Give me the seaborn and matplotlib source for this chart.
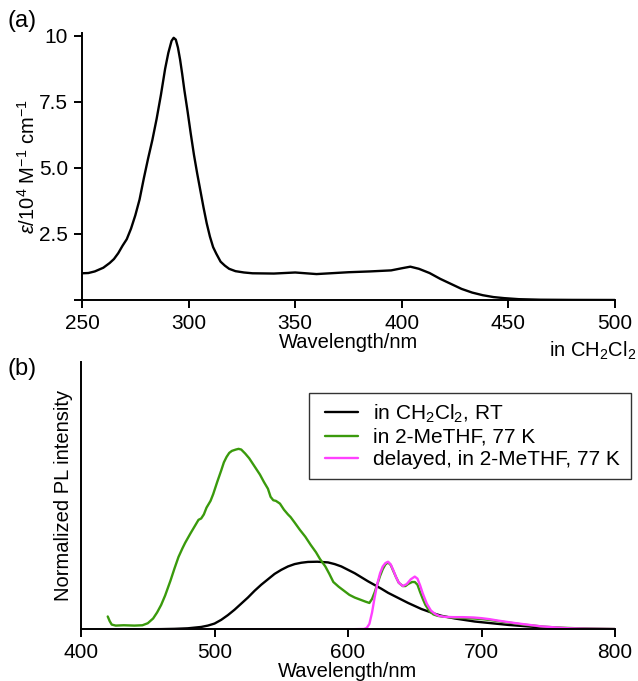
import matplotlib
matplotlib.use("Agg")
import matplotlib.pyplot as plt
from matplotlib.patches import Rectangle
import seaborn as sns

# (a) UV-vis absorption in CH2Cl2
abs_wl = [250, 253, 256, 260, 263, 265, 267, 269, 271, 273, 275, 277, 279, 281, 283,
          285, 287, 289, 290.5, 292, 293, 294, 295, 296, 297, 298, 299.5, 301, 302.5,
          304, 305.5, 307, 308.5, 310, 311.5, 313, 315, 317, 319, 322, 326, 330, 340,
          350, 360, 375, 385, 395, 400, 404, 408, 413, 418, 423, 428, 433, 438, 443,
          448, 455, 465, 480, 500]
abs_eps = [1.01, 1.02, 1.08, 1.22, 1.40, 1.55, 1.77, 2.05, 2.30, 2.70, 3.20, 3.80,
           4.60, 5.35, 6.05, 6.85, 7.75, 8.75, 9.35, 9.80, 9.92, 9.85, 9.55, 9.10,
           8.55, 7.95, 7.15, 6.30, 5.50, 4.80, 4.15, 3.50, 2.90, 2.40, 2.00, 1.75,
           1.45, 1.30, 1.18, 1.09, 1.04, 1.01, 1.00, 1.04, 0.98, 1.05, 1.08, 1.12,
           1.20, 1.26, 1.18, 1.02, 0.80, 0.61, 0.42, 0.28, 0.18, 0.11, 0.07, 0.03,
           0.01, 0.003, 0.0]
abs_xticks = [250, 300, 350, 400, 450, 500]
abs_yticks = [0, 2.5, 5.0, 7.5, 10]
abs_yticklabels = ["", "2.5", "5.0", "7.5", "10"]

# (b) photoluminescence spectra
rt_wl = [420, 440, 460, 470, 480, 490, 495, 500, 505, 510, 515, 520, 525, 530, 535,
         540, 545, 550, 555, 560, 565, 570, 577, 585, 590, 595, 600, 605, 610, 615,
         620, 625, 630, 635, 640, 645, 650, 655, 660, 665, 670, 675, 680, 685, 690,
         695, 700, 710, 720, 730, 740, 750, 760, 770, 780, 790, 800]
rt_int = [0.0, 0.0, 0.003, 0.007, 0.015, 0.035, 0.055, 0.085, 0.14, 0.21, 0.29, 0.38,
          0.47, 0.57, 0.66, 0.74, 0.82, 0.88, 0.93, 0.965, 0.985, 0.997, 1.0, 0.99,
          0.965, 0.93, 0.88, 0.83, 0.77, 0.71, 0.655, 0.60, 0.54, 0.49, 0.44, 0.39,
          0.345, 0.30, 0.265, 0.23, 0.20, 0.18, 0.16, 0.145, 0.13, 0.115, 0.105,
          0.085, 0.065, 0.05, 0.035, 0.025, 0.017, 0.011, 0.007, 0.004, 0.002]

k77_wl = [420, 421.5, 423, 426, 432, 440, 446, 450, 454, 457, 460, 463, 467, 470,
          473, 476, 478, 480, 482, 485, 488, 490, 492, 494, 497, 499, 502, 505, 507,
          509, 511, 513, 516, 518, 520, 523, 526, 529, 532, 534, 537, 540, 542, 544,
          546, 549, 552, 555, 557, 560, 564, 568, 572, 576, 579, 583, 586, 589, 593,
          597, 601, 605, 609, 613, 616, 618, 620, 622, 624, 626, 628, 630, 632, 634,
          636, 638, 641, 643, 645, 648, 650, 652, 654, 656, 658, 661, 664, 667, 670,
          675, 680, 687, 694, 701, 709, 716, 724, 731, 739, 746, 754, 765, 780, 800]
k77_int = [0.19, 0.12, 0.07, 0.055, 0.06, 0.055, 0.06, 0.09, 0.16, 0.25, 0.36, 0.50,
           0.72, 0.90, 1.07, 1.20, 1.28, 1.35, 1.42, 1.52, 1.62, 1.64, 1.70, 1.80,
           1.90, 2.00, 2.18, 2.35, 2.47, 2.55, 2.61, 2.64, 2.66, 2.67, 2.66, 2.60,
           2.53, 2.44, 2.35, 2.29, 2.18, 2.08, 1.96, 1.91, 1.90, 1.86, 1.77, 1.70,
           1.66, 1.58, 1.47, 1.37, 1.25, 1.14, 1.04, 0.93, 0.82, 0.70, 0.63, 0.57,
           0.51, 0.47, 0.44, 0.41, 0.39, 0.45, 0.55, 0.67, 0.79, 0.89, 0.96, 0.99,
           0.95, 0.86, 0.77, 0.69, 0.64, 0.64, 0.67, 0.70, 0.70, 0.66, 0.55, 0.45,
           0.36, 0.27, 0.22, 0.20, 0.19, 0.18, 0.17, 0.165, 0.16, 0.15, 0.13, 0.11,
           0.09, 0.07, 0.055, 0.04, 0.03, 0.02, 0.01, 0.005]

dl_wl = [420, 500, 600, 612, 614, 616, 618, 620, 622, 624, 626, 628, 630, 632, 634,
         636, 638, 641, 644, 647, 650, 652, 654, 656, 659, 662, 665, 668, 672, 679,
         686, 694, 700, 706, 712, 719, 726, 734, 744, 754, 766, 780, 800]
dl_int = [0, 0, 0, 0.005, 0.02, 0.08, 0.25, 0.48, 0.68, 0.83, 0.93, 0.98, 1.0, 0.96,
          0.87, 0.77, 0.69, 0.64, 0.67, 0.74, 0.78, 0.75, 0.65, 0.53, 0.38, 0.28,
          0.23, 0.20, 0.185, 0.18, 0.18, 0.175, 0.165, 0.15, 0.13, 0.11, 0.09, 0.07,
          0.045, 0.03, 0.015, 0.008, 0.004]
pl_xticks = [400, 500, 600, 700, 800]

series_labels = ["in CH$_2$Cl$_2$, RT", "in 2-MeTHF, 77 K",
                 "delayed, in 2-MeTHF, 77 K"]
series_colors = ["#000000", "#3A9A0C", "#FF40FF"]

sns.set_style("ticks")
plt.rcParams["font.family"] = ["Liberation Sans", "DejaVu Sans"]
plt.rcParams["mathtext.fontset"] = "custom"
plt.rcParams["mathtext.rm"] = "Liberation Sans"
plt.rcParams["mathtext.it"] = "Liberation Sans:italic"
plt.rcParams["mathtext.bf"] = "Liberation Sans:bold"
plt.rcParams["axes.linewidth"] = 1.4
plt.rcParams["xtick.major.width"] = 1.4
plt.rcParams["ytick.major.width"] = 1.4
plt.rcParams["xtick.major.size"] = 6
plt.rcParams["ytick.major.size"] = 6
plt.rcParams["xtick.direction"] = "out"
plt.rcParams["ytick.direction"] = "out"
plt.rcParams["axes.edgecolor"] = "black"
plt.rcParams["xtick.color"] = "black"
plt.rcParams["ytick.color"] = "black"
plt.rcParams["text.color"] = "black"
plt.rcParams["axes.labelcolor"] = "black"

FS = 15
fig = plt.figure(figsize=(6.38, 6.81), dpi=100)
ax_a = fig.add_axes([0.1285, 0.5595, 0.8355, 0.392])
ax_b = fig.add_axes([0.127, 0.0759, 0.837, 0.393])

# absorption panel
sns.lineplot(x=abs_wl, y=abs_eps, ax=ax_a, color="black", lw=1.7, estimator=None)
ax_a.set_xlim(250, 500)
ax_a.set_ylim(0, 10.1)
ax_a.set_xticks(abs_xticks)
ax_a.set_yticks(abs_yticks)
ax_a.set_yticklabels(abs_yticklabels)
ax_a.tick_params(labelsize=FS, pad=4)
ax_a.set_xlabel("Wavelength/nm", fontsize=FS - 0.5, labelpad=0)
ax_a.set_ylabel(r"$\varepsilon$/10$^4$ M$^{-1}$ cm$^{-1}$", fontsize=FS - 0.5, labelpad=0)
sns.despine(ax=ax_a)

# emission panel
for wl, inten, lab, col in zip([rt_wl, k77_wl, dl_wl], [rt_int, k77_int, dl_int],
                               series_labels, series_colors):
    sns.lineplot(x=wl, y=inten, ax=ax_b, color=col, lw=1.7, label=lab, estimator=None)
ax_b.set_xlim(400, 800)
ax_b.set_ylim(0, 3.96)
ax_b.set_xticks(pl_xticks)
ax_b.set_yticks([])
ax_b.tick_params(labelsize=FS, pad=4)
ax_b.set_xlabel("Wavelength/nm", fontsize=FS - 0.5, labelpad=0)
ax_b.set_ylabel("Normalized PL intensity", fontsize=FS - 0.5, labelpad=6)
sns.despine(ax=ax_b)

leg = ax_b.legend(loc="upper left", bbox_to_anchor=(0.4947, 0.4229),
                  bbox_transform=fig.transFigure, borderaxespad=0,
                  fontsize=FS, frameon=False,
                  handlelength=1.6, handletextpad=0.72, labelspacing=0.15,
                  borderpad=0.45)
# rectangular legend frame
fig.patches.append(Rectangle((0.4843, 0.2966), 0.5047, 0.1263,
                             transform=fig.transFigure, fill=False,
                             edgecolor="#333333", linewidth=1.0))

fig.text(0.012, 0.969, "(a)", fontsize=FS + 2, ha="left", va="center")
fig.text(0.012, 0.458, "(b)", fontsize=FS + 2, ha="left", va="center")
fig.text(0.997, 0.476, "in CH$_2$Cl$_2$", fontsize=FS - 0.5, ha="right", va="baseline")

fig.savefig("out.png", dpi=100)
